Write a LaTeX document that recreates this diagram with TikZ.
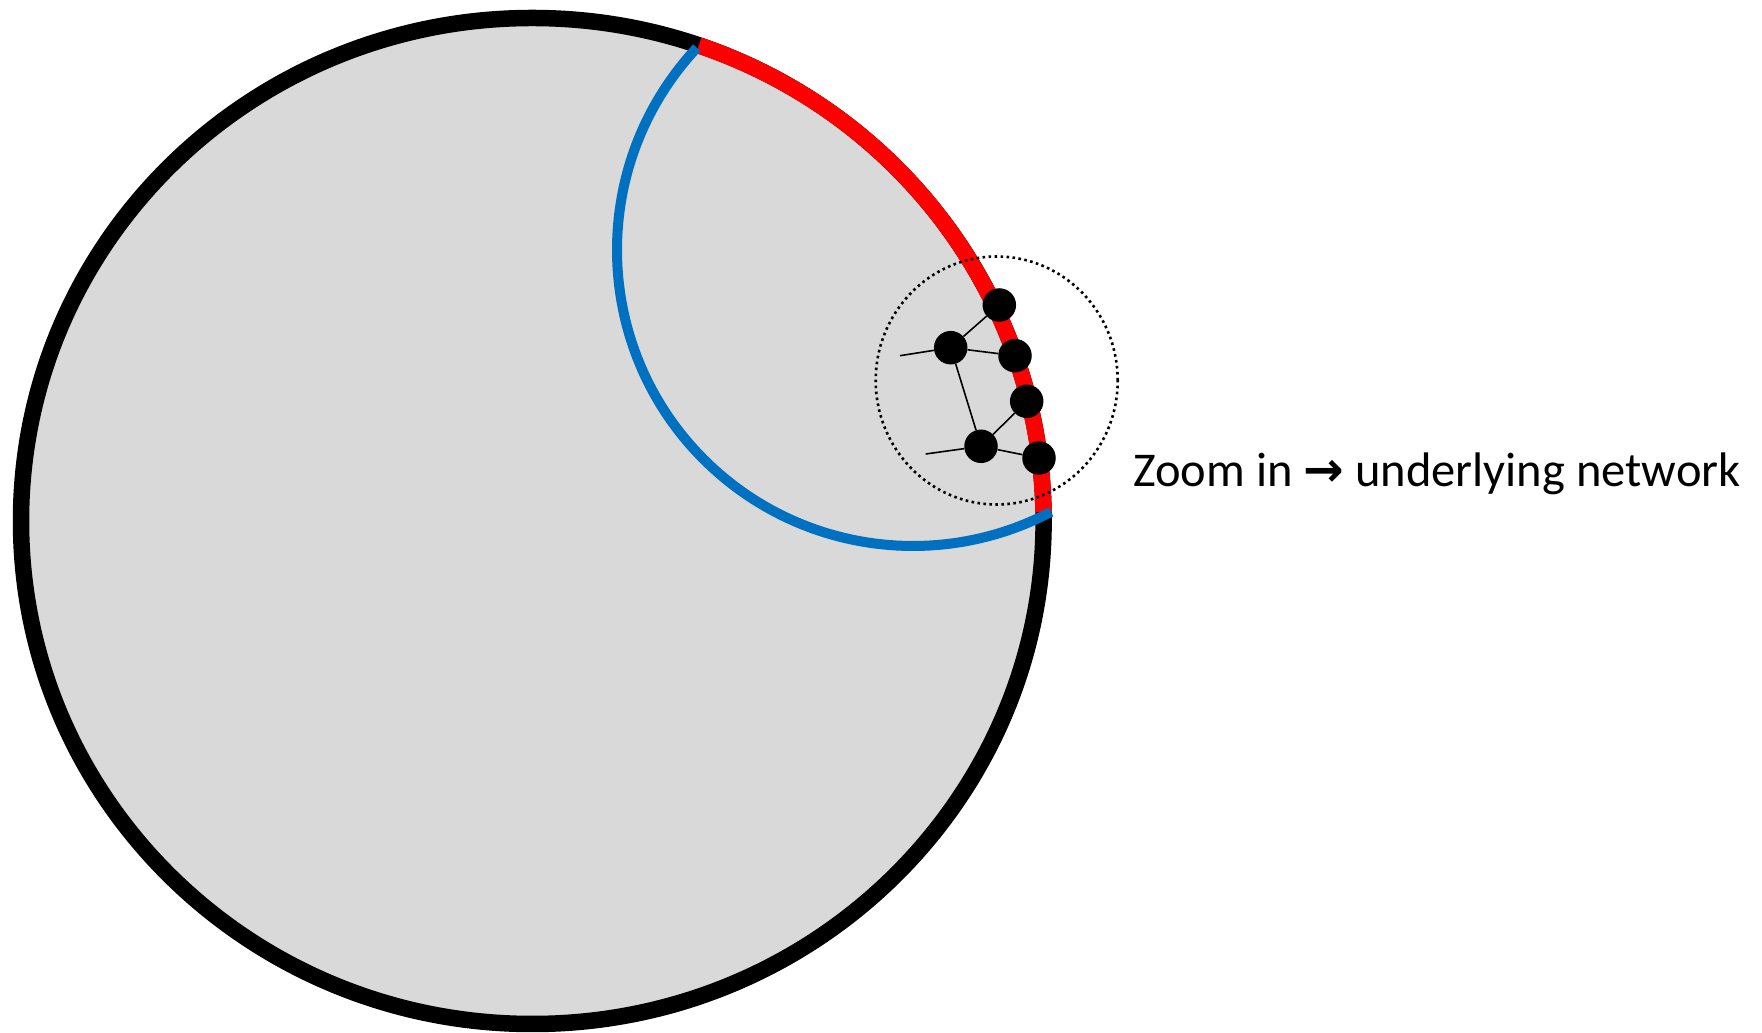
\documentclass[tikz,border=0pt]{standalone}
\usepackage{fontspec}
\setmainfont{Carlito}
\newfontfamily\arrowfont{DejaVu Sans}
\definecolor{ringgray}{HTML}{D9D9D9}
\definecolor{arcblue}{HTML}{0070C0}
\definecolor{arcred}{HTML}{FF0000}
\begin{document}
\begin{tikzpicture}[x=1pt,y=1pt,
  ring/.style={draw=black,line width=16.5pt,fill=ringgray},
  redarc/.style={draw=arcred,line width=16.5pt},
  bluearc/.style={draw=arcblue,line width=10pt},
  zoomcirc/.style={draw=black,line width=2.6pt,dash pattern=on 2.6pt off 3.4pt},
  netnode/.style={circle,fill=black,minimum size=33.5pt,inner sep=0pt},
  netedge/.style={draw=black,line width=1.6pt},
  label/.style={font=\fontsize{48.5}{58}\selectfont,anchor=base west,inner sep=0pt}]
\useasboundingbox (0,0) rectangle (1762,1033);
% big disc
\coordinate (C) at (532.3,512);
\draw[ring] (C) ellipse [x radius=511.3, y radius=503];
% red arc on the boundary
\draw[redarc] ([shift={(1:511.3 and 503)}]C) arc[start angle=1, end angle=71, x radius=511.3, y radius=503];
% blue arc
\coordinate (B) at (913,783);
\draw[bluearc,line cap=butt] ([shift={(136.9:296)}]B) arc[start angle=136.9, end angle=297.8, radius=296];
% dotted zoom circle
\coordinate (Z) at (996.7,652.5);
\draw[zoomcirc] (Z) ellipse [x radius=121, y radius=124];
% network
\node[netnode] (n1) at (999.3,728) {};
\node[netnode] (n2) at (950.7,685.3) {};
\node[netnode] (n3) at (1015,677.3) {};
\node[netnode] (n4) at (1026.7,631.7) {};
\node[netnode] (n5) at (981,586.7) {};
\node[netnode] (n6) at (1039,575) {};
\coordinate (fa) at (900,677.3);
\coordinate (fb) at (925.7,579);
\draw[netedge] (n2) -- (n1);
\draw[netedge] (n2) -- (n3);
\draw[netedge] (n2) -- (n5);
\draw[netedge] (n5) -- (n4);
\draw[netedge] (n5) -- (n6);
\draw[netedge] (fa) -- (n2);
\draw[netedge] (fb) -- (n5);
% label
\node[label] (lbl) at (1133,546) {Zoom in {\arrowfont\bfseries →} underlying network};
\end{tikzpicture}
\end{document}
